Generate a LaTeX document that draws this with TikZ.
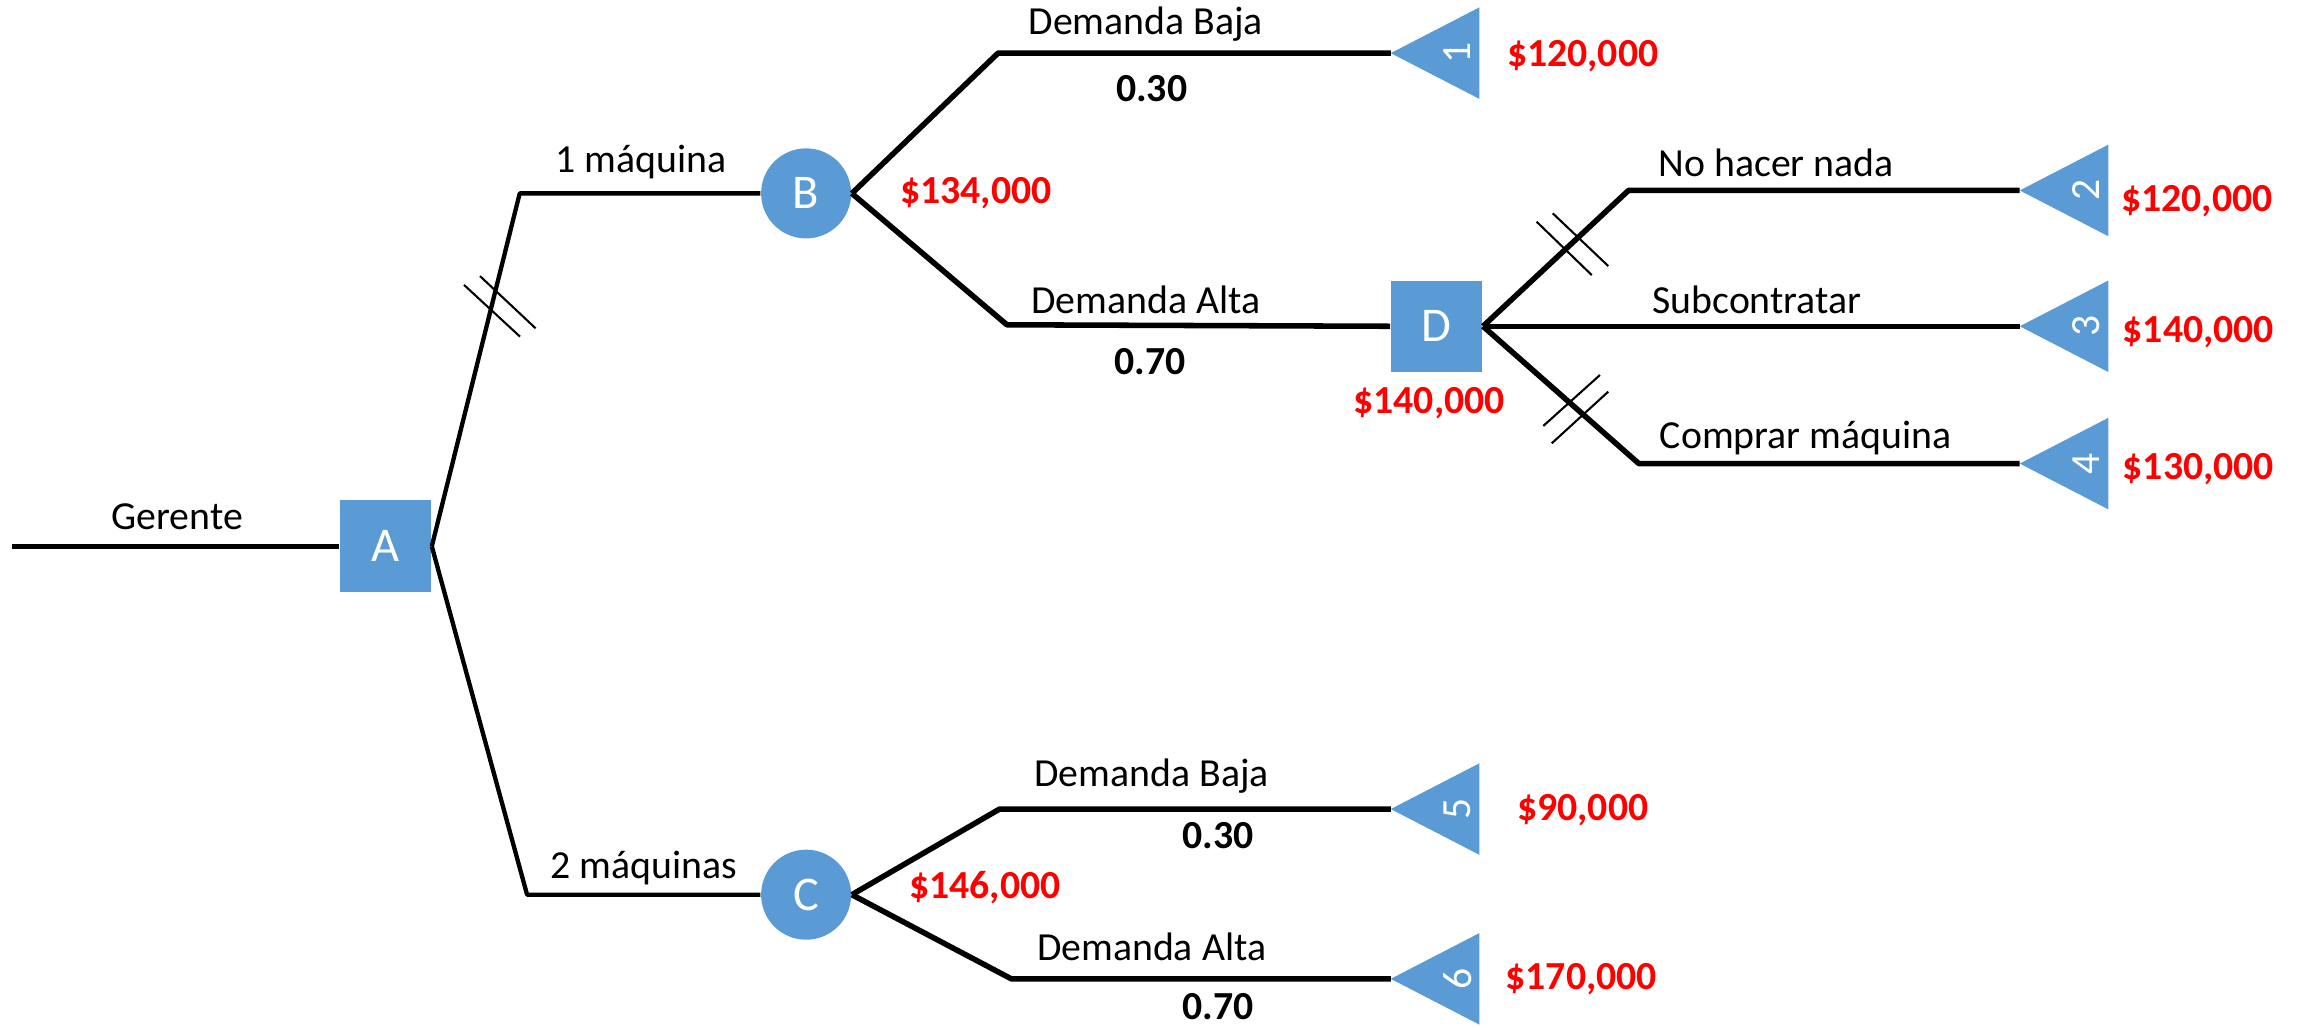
\documentclass[tikz,border=0pt]{standalone}
\usepackage{fontspec}
\setmainfont{Carlito}
\usetikzlibrary{calc, positioning}
\definecolor{nodeblue}{HTML}{5B9BD5}
\definecolor{valred}{HTML}{FF0000}
\tikzset{
x=0.015cm, y=-0.015cm, % units of the reference picture
every node/.style={inner sep=1pt},
branch/.style={line width=1.6pt, line join=round},
arm/.style={line width=1.25pt, line join=round},
hash/.style={line width=0.6pt},
decision/.style={rectangle, fill=nodeblue, text=white, minimum size=0.93cm, inner sep=0pt, font=\fontsize{14}{16}\selectfont},
chance/.style={circle, fill=nodeblue, text=white, minimum size=0.915cm, inner sep=0pt, font=\fontsize{14}{16}\selectfont},
leaf/.style={fill=nodeblue},
leafnum/.style={text=white, rotate=90, font=\fontsize{12}{14}\selectfont},
lbl/.style={font=\fontsize{11.5}{14}\selectfont},
prob/.style={font=\bfseries\fontsize{11.5}{14}\selectfont},
val/.style={text=valred, font=\bfseries\fontsize{11.5}{14}\selectfont},
}

\begin{document}
\begin{tikzpicture}
  \useasboundingbox (0,0) rectangle (1568,696);

  % decision and chance nodes
  \node[decision] at (261,370) (A){A};
  \node[chance] at (546,131) (B){B};
  \node[chance] at (546,606) (C){C};
  \node[decision] at (973,221) (D){D};

  % end points
  \foreach \n/\x/\y in {1/942/36, 2/1368/129, 3/1368/221, 4/1368/314, 5/942/548, 6/942/663}
  {
    \coordinate (t\n) at (\x,\y);
    \fill[leaf] (t\n) -- ++(60,-31) -- ++(0,62) -- cycle;
    \node[leafnum] (n\n) at ($(t\n)+(45,0)$) {\n};
  }

  % corners
  \coordinate (start) at (8,370);
  \coordinate (ab) at (352,131);
  \coordinate (ac) at (357,606);
  \coordinate (b1) at (676,36);
  \coordinate (b2) at (682,220);
  \coordinate (d2) at (1103,129);
  \coordinate (d4) at (1110,314);
  \coordinate (c5) at (677,548);
  \coordinate (c6) at (685,663);

  % Gerente
  \draw[branch, line width=1.4pt] (start) -- (A.west);
  \node[lbl] at (120,350) (gerente){Gerente};

  % A
  \draw[arm] (A.east) -- (ab) -- (B.west);
  \draw[arm] (A.east) -- (ac) -- (C.west);
  \node[lbl] at (434,110) (una){1 máquina};
  \node[lbl] at (436,588) (dos){2 máquinas};
  \draw[hash] (314.3,193) -- (352.2,228);
  \draw[hash] (325.1,187) -- (362.8,222.4);

  % B
  \draw[branch] (B.east) -- (b1) -- (t1);
  \draw[branch] (B.east) -- (b2) -- (D.west);
  \node[lbl] at (776,16) (bbaja){Demanda Baja};
  \node[prob] at (780,60) (pbaja){0.30};
  \node[lbl] at (776,203) (balta){Demanda Alta};
  \node[prob] at (779,245) (palta){0.70};
  \node[val] at (661,131) (vb){\$134,000};
  \node[val] at (1072,38) (v1){\$120,000};

  % D
  \draw[branch] (D.east) -- (d2) -- (t2);
  \draw[branch] (D.east) -- (t3);
  \draw[branch] (D.east) -- (d4) -- (t4);
  \node[lbl] at (1203,110) (nada){No hacer nada};
  \node[lbl] at (1190,203) (sub){Subcontratar};
  \node[lbl] at (1223,297) (comprar){Comprar máquina};
  \draw[hash] (1040.8,150.2) -- (1078.1,186.3);
  \draw[hash] (1051.7,144.5) -- (1089.3,180.2);
  \draw[hash] (1045.3,288.5) -- (1083.7,254);
  \draw[hash] (1051,300.3) -- (1089.3,265.3);
  \node[val] at (968,273) (vd){\$140,000};
  \node[val] at (1488,136) (v2){\$120,000};
  \node[val] at (1489,225) (v3){\$140,000};
  \node[val] at (1489,318) (v4){\$130,000};

  % C
  \draw[branch] (C.east) -- (c5) -- (t5);
  \draw[branch] (C.east) -- (c6) -- (t6);
  \node[lbl] at (780,526) (cbaja){Demanda Baja};
  \node[prob] at (825,566) (pcbaja){0.30};
  \node[lbl] at (780,641) (calta){Demanda Alta};
  \node[prob] at (825,682) (pcalta){0.70};
  \node[val] at (667,601) (vc){\$146,000};
  \node[val] at (1072,549) (v5){\$90,000};
  \node[val] at (1071,663) (v6){\$170,000};
\end{tikzpicture}
\end{document}
